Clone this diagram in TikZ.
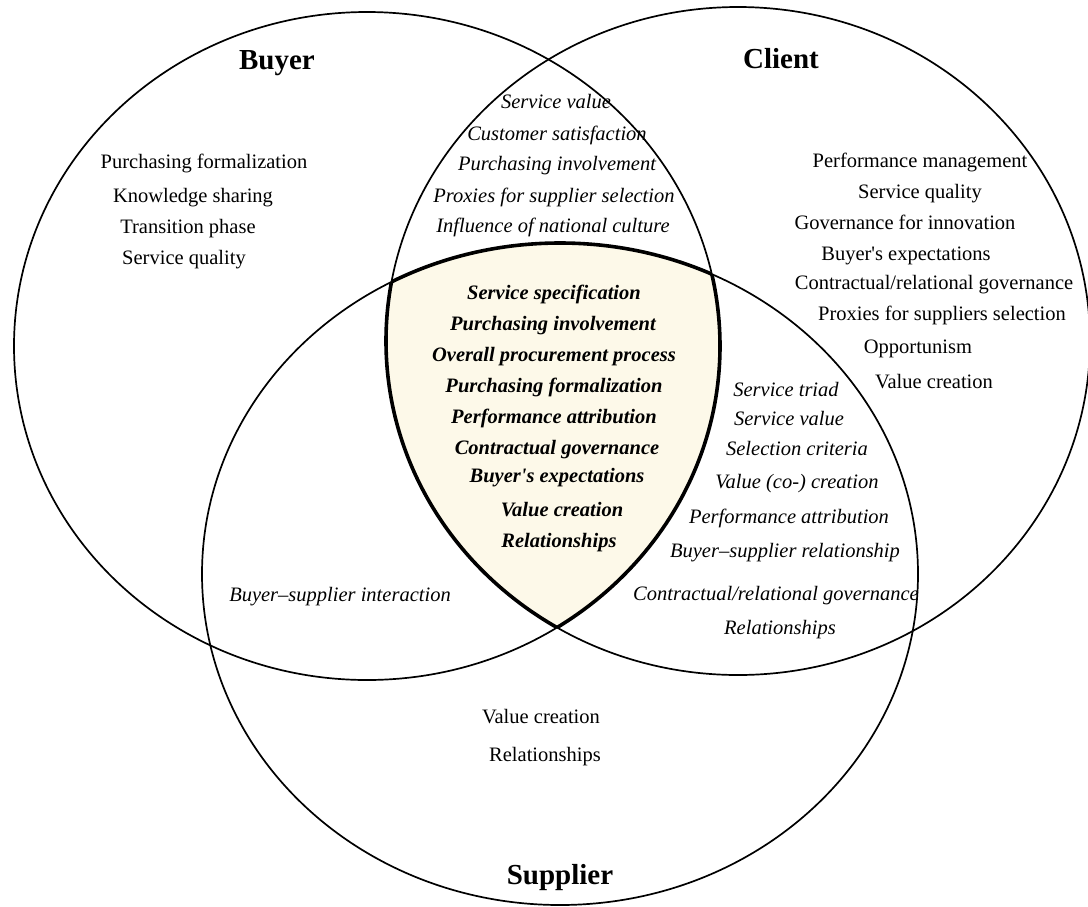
\documentclass[tikz,border=0pt]{standalone}
\usepackage{fontspec}
\setmainfont{Liberation Serif}
\usepackage{tikz}
\definecolor{corefill}{RGB}{253,249,233}
\tikzset{
	ring/.style={line width=1.7pt},
	corering/.style={line width=3.6pt},
	setname/.style={font=\fontsize{29}{32}\selectfont\bfseries, inner sep=0pt},
	topic/.style={font=\fontsize{20.5}{24}\selectfont, inner sep=0pt, text height=14pt, text depth=4pt},
	sharedtopic/.style={topic, font=\fontsize{20.5}{24}\selectfont\itshape},
	coretopic/.style={topic, font=\fontsize{20.5}{24}\selectfont\bfseries\itshape},
}
\newcommand{\buyerset}{(367,346) ellipse [x radius=353pt, y radius=334pt]}
\newcommand{\clientset}{(738,341) ellipse [x radius=352pt, y radius=334pt]}
\newcommand{\supplierset}{(560,574) ellipse [x radius=358pt, y radius=331pt]}
\newcommand{\apos}{\textquotesingle}

\begin{document}
\begin{tikzpicture}[x=1pt, y=-1pt]

	\useasboundingbox (0,0) rectangle (1088,906);

	\begin{scope}
		\clip \buyerset;
		\clip \clientset;
		\fill[corefill] \supplierset;
	\end{scope}

	\draw[ring] \buyerset;
	\draw[ring] \clientset;
	\draw[ring] \supplierset;

	\begin{scope}
		\clip \buyerset;
		\clip \clientset;
		\draw[corering] \supplierset;
	\end{scope}
	\begin{scope}
		\clip \buyerset;
		\clip \supplierset;
		\draw[corering] \clientset;
	\end{scope}
	\begin{scope}
		\clip \clientset;
		\clip \supplierset;
		\draw[corering] \buyerset;
	\end{scope}

	\node[setname] (B) at (277,63) {Buyer};
	\node[setname] (C) at (781,59) {Client};
	\node[setname] (S) at (560,878) {Supplier};

	\node[topic] (B1) at (204,163) {Purchasing formalization};
	\node[topic] (B2) at (193,197) {Knowledge sharing};
	\node[topic] (B3) at (188,228) {Transition phase};
	\node[topic] (B4) at (184,259) {Service quality};

	\node[sharedtopic] (BC1) at (556,103) {Service value};
	\node[sharedtopic] (BC2) at (557,135) {Customer satisfaction};
	\node[sharedtopic] (BC3) at (557,165) {Purchasing involvement};
	\node[sharedtopic] (BC4) at (554,197) {Proxies for supplier selection};
	\node[sharedtopic] (BC5) at (553,227) {Influence of national culture};

	\node[topic] (C1) at (920,162) {Performance management};
	\node[topic] (C2) at (920,193) {Service quality};
	\node[topic] (C3) at (905,224) {Governance for innovation};
	\node[topic] (C4) at (906,255) {Buyer\apos s expectations};
	\node[topic] (C5) at (934,284) {Contractual/relational governance};
	\node[topic] (C6) at (942,315) {Proxies for suppliers selection};
	\node[topic] (C7) at (918,348) {Opportunism};
	\node[topic] (C8) at (934,383) {Value creation};

	\node[coretopic] (K1) at (554,294) {Service specification};
	\node[coretopic] (K2) at (553,325) {Purchasing involvement};
	\node[coretopic] (K3) at (554,356) {Overall procurement process};
	\node[coretopic] (K4) at (554,387) {Purchasing formalization};
	\node[coretopic] (K5) at (554,418) {Performance attribution};
	\node[coretopic] (K6) at (557,449) {Contractual governance};
	\node[coretopic] (K7) at (557,477) {Buyer\apos s expectations};
	\node[coretopic] (K8) at (562,511) {Value creation};
	\node[coretopic] (K9) at (559,542) {Relationships};

	\node[sharedtopic] (CS1) at (786,391) {Service triad};
	\node[sharedtopic] (CS2) at (789,420) {Service value};
	\node[sharedtopic] (CS3) at (797,450) {Selection criteria};
	\node[sharedtopic] (CS4) at (797,483) {Value (co-) creation};
	\node[sharedtopic] (CS5) at (789,518) {Performance attribution};
	\node[sharedtopic] (CS6) at (785,552) {Buyer--supplier relationship};
	\node[sharedtopic] (CS7) at (776,595) {Contractual/relational governance};
	\node[sharedtopic] (CS8) at (780,629) {Relationships};

	\node[sharedtopic] (BS1) at (340,596) {Buyer--supplier interaction};

	\node[topic] (S1) at (541,718) {Value creation};
	\node[topic] (S2) at (545,756) {Relationships};

\end{tikzpicture}
\end{document}
